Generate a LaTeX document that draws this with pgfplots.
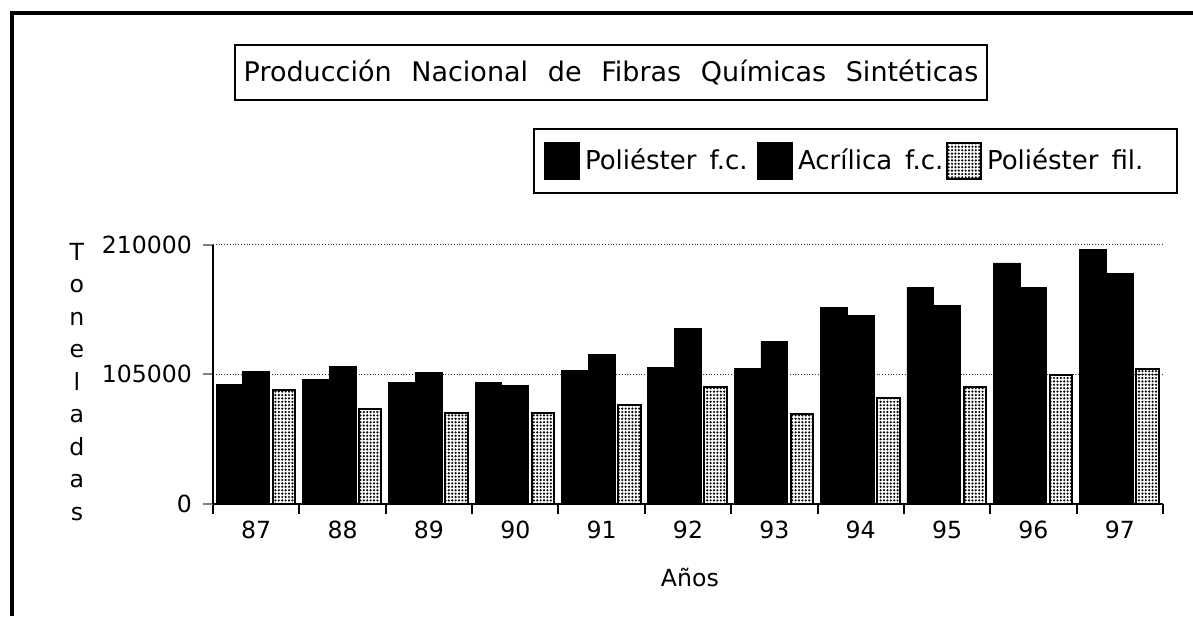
\documentclass[border=0pt]{standalone}
\usepackage{fontspec}
\setmainfont{DejaVu Sans}
\usepackage{pgfplots}
\pgfplotsset{compat=1.18}
\usetikzlibrary{patterns.meta}

\tikzset{dotfill/.style={pattern={Dots[distance=1.7pt,radius=0.6pt]},pattern color=black}}
\pgfplotsset{sqlegend/.style={legend image code/.code={\draw[##1] (0pt,-9pt) rectangle (17pt,9pt);}}}
\newcommand{\wsp}{\hspace{0.5em}}
\newcommand{\tl}[1]{\mbox{\fontsize{11.8}{14}\selectfont #1}}

\begin{document}
\begin{tikzpicture}
\useasboundingbox (0,0) rectangle (596.5pt,308pt);
% page frame (cut off right and bottom in the scan)
\draw[line width=1.6pt] (6pt,0pt) -- (6pt,301.5pt) -- (596.5pt,301.5pt);
% title box
\node[draw,line width=1pt,minimum width=376pt,minimum height=27.5pt,font=\fontsize{13.5}{15}\selectfont]
  at (305.5pt,271.75pt) {Producción\hspace{0.73em}Nacional\hspace{0.73em}de\hspace{0.73em}Fibras\hspace{0.73em}Químicas\hspace{0.73em}Sintéticas};

\begin{axis}[
  at={(106.5pt,56pt)},anchor=south west,
  scale only axis,width=475pt,height=129.65pt,
  xmin=-0.5,xmax=10.5,ymin=0,ymax=210000,
  axis x line*=bottom,axis y line*=left,
  axis line style={-,line width=1pt},
  xtick={0,...,10},xticklabels={\tl{87},\tl{88},\tl{89},\tl{90},\tl{91},\tl{92},\tl{93},\tl{94},\tl{95},\tl{96},\tl{97}},
  minor xtick={-0.5,0.5,...,10.5},
  ytick={0,105000,210000},yticklabels={\tl{0},\tl{105000},\tl{210000}},
  tick align=outside,
  major tick length=5pt,
  x tick style={draw=none},
  minor x tick style={draw=black,line width=1pt},
  minor tick length=5pt,
  y tick style={line width=1pt},
  scaled y ticks=false,
  yticklabel style={xshift=-2pt},
  ymajorgrids,
  grid style={densely dotted,line width=0.5pt,black!80},
  xlabel={Años},
  xlabel style={at={(axis description cs:0.502,-0.285)},anchor=center,font=\fontsize{11.8}{14}\selectfont},
  ylabel={T\\o\\n\\e\\l\\a\\d\\a\\s},
  ylabel style={at={(axis description cs:-0.1432,0.4705)},anchor=center,rotate=-90,align=center,font=\fontsize{11.8}{16.25}\selectfont},
  legend columns=3,
  legend style={at={(axis description cs:1.0158,1.45)},anchor=north east,draw=black,line width=1pt,
    font=\fontsize{13}{15}\selectfont,inner xsep=5pt,inner ysep=6.5pt,
    nodes={inner sep=0pt},
    /tikz/every odd column/.append style={column sep=2.5pt},
    /tikz/every even column/.append style={column sep=0pt}},
]
\addplot[ybar,bar width=0.31,bar shift=-0.31,fill=black,draw=black,sqlegend]
  coordinates {(0,96700) (1,101000) (2,98300) (3,98300) (4,108200) (5,110400) (6,110100) (7,159400) (8,175500) (9,195200) (10,206000)};
\addplot[ybar,bar width=0.31,bar shift=0,fill=black,draw=black,sqlegend]
  coordinates {(0,107400) (1,111200) (2,106600) (3,95800) (4,121400) (5,142400) (6,131400) (7,152400) (8,161000) (9,175500) (10,186800)};
\addplot[ybar,bar width=0.26,bar shift=0.32,dotfill,draw=black,line width=1pt,sqlegend]
  coordinates {(0,92100) (1,76700) (2,74000) (3,74000) (4,80500) (5,95000) (6,73200) (7,85900) (8,94700) (9,104700) (10,109000)};
\legend{\makebox[86pt][l]{Poliéster\wsp f.c.},\makebox[74pt][l]{Acrílica\wsp f.c.},\makebox[90pt][l]{Poliéster\wsp fil.}}
\end{axis}
\end{tikzpicture}
\end{document}
